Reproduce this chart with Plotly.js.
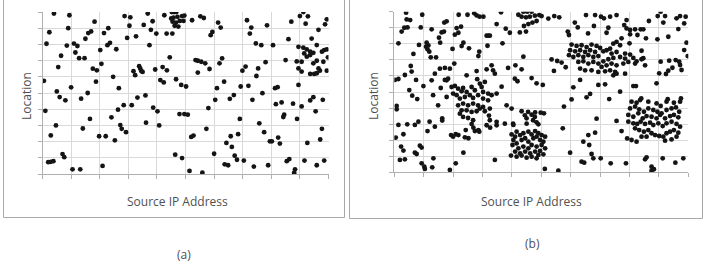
<!DOCTYPE html>
<html><head><meta charset="utf-8">
<script src="https://cdn.plot.ly/plotly-3.0.1.min.js"></script>
<style>html,body{margin:0;padding:0;background:#fff}#chart{width:705px;height:265px}</style>
</head><body><div id="chart"></div>
<script>
// Panel (a): uniformly scattered traffic, [sourceIP, location] in grid units
const aUpperLeft = [[0.4,9.9],[0.94,9.8],[0.24,8.75],[0.14,8.04],[0.9,9.0],[1.82,9.4],[0.65,7.3],[0.85,7.93],[1.1,8.05],[1.22,7.9],[1.15,7.5],[1.28,7.15],[1.47,7.15],[1.5,8.35],[1.6,8.7],[1.7,8.8],[0.55,6.6],[0.05,5.75],[0.5,5.1],[0.6,4.75],[0.8,4.55],[1.0,5.35],[1.35,4.65],[1.58,5.0],[0.1,3.9],[2.02,7.65],[2.15,8.7],[2.3,9.0],[2.27,7.95],[2.36,8.1],[2.58,7.7],[2.06,6.8],[1.76,6.5],[1.9,6.4],[1.87,5.7],[2.47,6.0],[2.67,5.3],[2.87,9.75],[3.07,9.67],[3.04,9.15],[2.96,8.4],[3.27,8.5],[3.68,9.9],[3.85,9.43],[3.54,9.2],[3.79,8.9],[3.74,7.95],[3.98,8.67],[4.26,9.8],[4.34,8.67],[4.54,8.67],[4.45,7.2],[3.18,6.35],[3.24,6.1],[3.38,6.65],[3.42,6.5],[3.46,6.35],[3.5,6.3],[3.94,6.45],[4.2,6.6],[4.35,6.4],[4.12,5.8],[4.24,5.65],[2.64,3.97],[2.84,4.25],[3.12,4.25],[3.32,4.72],[3.6,4.85],[3.87,4.1],[4.02,3.87],[1.66,3.4],[2.41,3.5],[4.52,10],[4.6,10],[4.68,10],[4.5,9.6],[4.58,9.65],[4.72,9.7],[4.88,9.75],[4.96,9.78],[4.55,9.4],[4.67,9.35],[4.8,9.45],[4.93,9.45],[4.62,9.15],[4.75,9.1]];
const aUpperRight = [[5.23,9.49],[5.52,9.73],[5.64,9.63],[6.14,9.35],[6.23,9.04],[5.94,8.77],[5.88,8.57],[7.15,9.49],[7.3,9.04],[7.25,8.67],[7.85,9.18],[7.46,8.06],[7.65,7.95],[8.06,7.95],[8.6,8.32],[8.7,9.4],[9.0,9.75],[9.12,10],[9.28,9.73],[9.2,9.28],[9.94,9.55],[9.88,9.24],[9.65,8.9],[9.41,8.36],[8.95,7.85],[9.12,7.8],[9.24,7.69],[9.36,7.55],[9.47,7.48],[9.15,7.44],[9.24,7.24],[9.36,7.34],[9.59,7.96],[9.77,7.55],[9.85,7.65],[9.94,7.69],[9.98,7.2],[9.59,6.99],[9.82,6.93],[8.89,6.95],[9.06,6.93],[8.95,6.52],[9.06,6.32],[9.36,6.18],[9.5,6.18],[9.59,6.22],[9.65,6.52],[9.7,6.38],[9.94,6.38],[9.47,6.83],[8.5,7.03],[7.8,6.9],[7.54,6.52],[7.48,6.05],[6.99,6.38],[7.1,6.63],[7.2,5.44],[6.93,5.4],[5.35,7.03],[5.43,6.99],[5.55,6.93],[5.69,6.83],[5.43,6.26],[5.84,6.48],[6.19,6.83],[6.28,7.14],[6.35,5.7],[4.67,5.85],[4.85,5.5],[5.02,5.4],[6.1,5.3],[6.04,4.58],[6.55,4.64],[6.69,4.87],[7.69,4.99],[7.34,4.58],[8.13,5.3],[8.22,5.36],[8.95,5.5],[8.16,4.31],[8.36,4.42],[8.76,4.34],[9.06,4.17],[9.36,4.54],[9.47,4.74],[9.8,4.58],[9.55,3.87],[5.8,4.07],[4.79,3.7],[4.96,3.7],[5.08,3.66],[8.45,3.66],[8.42,3.52],[6.9,3.4],[8.9,3.4]];
const aLowerLeft = [[0.47,3.0],[0.29,2.38],[0.2,0.73],[0.29,0.75],[0.38,0.79],[0.7,1.23],[0.76,1.04],[1.05,0.29],[1.32,0.29],[1.41,2.81],[1.98,2.33],[2.21,2.33],[2.1,0.5],[2.53,2.08],[2.72,3.02],[2.77,2.79],[2.92,2.58],[3.62,3.17],[4.08,3.0],[4.64,1.19]];
const aLowerRight = [[7.58,3.13],[7.75,2.58],[5.73,2.79],[5.2,2.29],[5.28,2.37],[4.88,0.98],[5.14,0.19],[5.59,0.08],[6.0,1.25],[6.58,2.33],[6.84,2.46],[6.43,1.92],[6.62,1.67],[6.72,1.13],[6.8,0.88],[7.04,0.83],[6.37,0.6],[6.49,0.54],[7.39,0.46],[7.89,0.54],[7.95,2.02],[8.02,2.02],[8.24,2.25],[8.3,1.88],[8.54,0.79],[8.63,0.92],[8.83,0.29],[8.8,0.08],[9.16,0.83],[9.26,1.92],[9.77,2.79],[9.71,2.13],[9.85,0.83],[9.59,0.54]];

// Panel (b): scattered traffic plus four dense clusters
const bSparseLeft = [[0.4,9.94],[0.42,9.52],[0.54,9.48],[0.95,9.81],[0.25,8.76],[0.34,9.0],[0.45,9.02],[0.9,9.02],[0.14,8.03],[0.84,7.93],[1.1,8.07],[1.16,7.9],[1.08,7.82],[1.13,7.66],[1.19,7.51],[1.27,8.9],[0.65,7.37],[1.24,7.16],[1.42,7.16],[1.52,8.38],[1.61,8.71],[1.69,8.76],[1.56,8.07],[1.7,9.32],[1.78,9.4],[2.06,8.57],[2.18,8.69],[2.12,8.98],[2.27,9.07],[2.19,9.81],[2.49,9.81],[2.72,9.9],[2.8,9.77],[2.9,9.69],[3.03,9.69],[1.98,7.68],[2.35,8.07],[2.29,7.86],[2.54,7.72],[2.86,7.24],[2.89,7.51],[3.14,8.51],[3.2,8.51],[3.25,8.51],[3.17,7.88],[3.63,9.96],[3.48,9.23],[3.68,8.03],[3.79,8.94],[3.93,8.69],[4.22,9.81],[4.27,8.71],[0.56,6.62],[0.59,6.27],[0.74,5.75],[0.36,6.06],[0.14,5.81],[0.02,5.75],[0.99,5.37],[0.51,5.12],[0.61,4.77],[0.78,4.56],[1.72,5.75],[0.08,4.13],[0.08,3.92],[2.8,6.3],[3.65,5.33],[3.22,3.53],[0.14,2.95],[0.44,2.99],[0.7,2.95],[0.82,3.15],[0.31,2.37],[0.05,2.16],[0.23,1.6],[0.31,1.35],[0.19,0.77],[0.36,0.81],[0.7,1.22],[0.76,1.14],[0.87,1.66],[0.93,1.54],[0.93,0.56],[1.02,0.35],[1.04,0.21],[1.29,0.31],[1.33,0.87],[1.13,2.57],[1.2,3.15],[1.38,2.84],[1.63,3.36],[1.63,3.22],[1.89,0.15],[2.09,0.56],[1.93,2.32],[2.0,2.22],[2.09,2.37],[2.18,2.32],[2.35,1.22],[2.4,2.18],[2.52,2.12],[2.43,2.63],[2.63,3.0],[2.69,2.78],[2.74,2.57],[2.89,2.53],[3.42,0.77],[4.05,2.95]];
const bSparseRight = [[5.77,4.09],[5.73,2.74],[5.12,0.21],[5.58,0.1],[5.98,1.22],[6.43,1.91],[6.6,2.32],[6.83,2.47],[6.88,3.34],[6.63,1.7],[6.71,1.14],[6.77,0.87],[7.02,0.87],[6.37,0.66],[6.46,0.6],[7.36,0.56],[7.56,3.2],[7.73,2.57],[7.88,0.56],[8.53,0.81],[8.58,0.93],[8.75,0.35],[8.83,0.19],[8.75,0.1],[9.13,0.87],[9.56,0.6],[9.83,0.87],[4.98,3.71],[5.09,3.67],[4.39,10],[4.52,10],[4.67,10],[4.33,9.69],[4.48,9.65],[4.61,9.69],[4.78,9.75],[4.93,9.79],[5.01,9.73],[4.41,9.11],[4.56,9.23],[4.7,9.32],[4.84,9.42],[4.48,8.76],[5.24,9.57],[5.44,9.73],[5.61,9.65],[6.52,9.79],[6.83,9.79],[7.03,9.69],[7.13,9.59],[7.34,9.69],[7.56,9.79],[7.9,9.48],[7.82,9.17],[7.9,8.96],[8.02,8.86],[8.19,8.9],[8.38,8.9],[8.47,8.9],[8.66,9.42],[8.96,9.73],[9.06,10],[9.21,9.73],[9.15,9.32],[9.6,9.59],[9.72,9.73],[9.91,9.69],[9.86,9.27],[9.66,8.92],[9.32,8.44],[9.94,8.07],[9.86,7.61],[9.98,7.24],[6.14,9.32],[6.24,9.02],[5.9,8.76],[5.94,8.55],[6.59,8.65],[6.79,9.11],[7.22,8.69],[7.28,9.0],[8.02,8.59],[8.27,8.55],[8.56,8.34],[8.95,8.28],[7.73,8.34],[8.0,8.03],[8.41,7.57],[8.47,7.1],[9.06,6.89],[9.35,6.95],[9.57,6.99],[9.69,6.89],[9.72,6.68],[9.46,6.51],[9.32,6.33],[9.24,6.12],[9.01,6.16],[8.92,5.54],[9.77,6.37],[4.39,7.2],[5.35,7.03],[5.54,6.93],[5.69,6.83],[5.43,6.31],[5.83,6.54],[6.32,5.75],[6.09,5.29],[6.94,5.44],[7.17,5.48],[7.68,5.02],[8.13,5.37],[8.22,5.37],[4.84,5.54],[5.05,5.44],[6.03,4.54],[6.54,4.67],[6.66,4.88],[7.31,4.56]];
const bClusterLeft = [[1.55,6.45],[1.72,6.5],[1.89,6.45],[2.04,6.77],[1.38,6.14],[1.27,5.73],[2.46,6.04],[2.82,5.8],[3.14,6.41],[3.31,6.66],[3.36,6.35],[3.42,6.14],[3.87,6.5],[4.12,6.66],[4.33,6.41],[4.1,5.83],[4.19,5.67],[4.67,5.87],[1.78,5.73],[1.83,5.83],[1.58,5.25],[1.32,4.8],[1.49,4.17],[1.78,4.69],[1.95,5.31],[2.06,5.38],[2.17,5.21],[2.0,4.9],[2.12,4.8],[2.29,5.04],[2.34,5.25],[2.46,5.0],[2.63,5.31],[2.74,5.11],[2.91,5.52],[2.97,5.31],[3.08,5.63],[3.02,5.0],[3.19,4.9],[3.31,4.8],[3.48,4.9],[2.23,4.59],[2.4,4.69],[2.57,4.8],[2.68,4.63],[2.85,4.8],[3.02,4.59],[3.19,4.48],[2.17,4.17],[2.34,4.28],[2.51,4.17],[2.68,4.28],[2.85,4.17],[3.02,4.07],[3.25,3.97],[2.29,3.86],[2.46,3.86],[2.63,3.76],[2.8,3.8],[2.91,3.97],[3.08,3.8],[2.23,3.65],[2.34,3.45],[2.51,3.38],[2.68,3.24],[3.25,3.24],[3.48,3.14],[3.82,4.17],[3.99,3.97],[4.33,3.8],[4.44,3.55],[4.55,3.76],[4.67,3.59],[4.72,3.24],[4.78,3.45],[4.5,3.03],[4.04,3.03],[3.76,3.03],[3.14,2.93],[3.48,2.93],[4.79,3.73]];
const bClusterBottom = [[4.5,3.36],[4.84,3.11],[4.9,2.99],[3.26,2.78],[2.86,2.63],[3.99,2.36],[4.11,2.22],[4.05,2.01],[4.16,2.53],[4.28,2.32],[4.39,2.43],[4.56,2.53],[4.67,2.36],[4.79,2.57],[4.9,2.43],[5.01,2.32],[5.13,2.22],[4.02,1.7],[4.16,1.8],[4.33,2.01],[4.45,2.12],[4.56,1.91],[4.73,2.12],[4.84,2.22],[4.96,2.01],[5.07,1.91],[4.22,1.49],[4.39,1.6],[4.56,1.49],[4.67,1.7],[4.84,1.6],[5.01,1.7],[5.13,1.49],[4.11,1.29],[4.28,1.18],[4.45,1.29],[4.62,1.18],[4.79,1.29],[4.96,1.33],[3.97,1.04],[4.16,0.97],[4.33,1.04],[4.5,0.91],[4.67,0.97],[4.9,1.08],[5.07,1.12],[4.84,0.87]];
const bClusterTop = [[6.03,7.95],[6.2,7.87],[6.37,7.91],[6.54,7.8],[6.71,7.95],[6.88,7.87],[7.0,7.74],[5.98,7.6],[6.15,7.53],[6.32,7.6],[6.49,7.49],[6.66,7.6],[6.83,7.49],[7.11,7.53],[7.22,7.6],[7.34,7.7],[7.45,8.01],[7.56,8.12],[7.68,7.91],[7.39,7.39],[7.56,7.49],[5.94,7.29],[6.09,7.18],[6.26,7.29],[6.43,7.18],[6.6,7.29],[6.77,7.18],[6.94,7.24],[6.26,6.87],[6.43,6.91],[6.6,6.77],[6.77,6.87],[6.94,6.77],[7.11,6.91],[7.28,7.04],[7.45,7.12],[7.68,7.18],[7.85,7.39],[8.02,7.33],[8.13,7.12],[8.24,6.91],[8.19,6.77],[7.96,6.87],[7.79,6.77],[7.85,7.08],[7.05,6.56],[7.22,6.66],[7.39,6.77],[7.56,6.66],[6.49,6.35],[6.71,6.35],[6.94,6.25],[7.17,6.29],[7.34,6.35],[7.51,6.25],[7.45,6.04],[7.56,6.14],[7.85,6.14],[6.32,6.46],[8.53,6.66],[8.41,7.04]];
const bClusterRight = [[8.4,4.6],[9.3,4.55],[9.75,4.6],[8.07,4.4],[8.24,4.33],[8.36,4.5],[8.64,4.4],[8.92,4.29],[9.06,4.13],[9.26,4.4],[9.51,4.33],[9.72,4.4],[8.02,3.98],[8.19,4.09],[8.33,3.92],[8.49,3.77],[8.64,3.98],[8.81,3.88],[8.95,3.77],[9.09,3.67],[9.26,3.88],[9.43,3.98],[9.58,4.04],[9.69,3.77],[7.96,3.57],[8.13,3.46],[8.3,3.67],[8.45,3.36],[8.58,3.5],[8.75,3.46],[8.92,3.36],[9.04,3.57],[9.21,3.36],[9.38,3.5],[9.51,3.57],[9.66,3.42],[7.96,3.15],[8.13,3.05],[8.26,3.01],[8.38,3.15],[8.53,3.01],[8.7,3.09],[8.81,2.94],[8.98,3.05],[9.13,2.88],[9.26,3.05],[9.43,3.15],[9.6,3.01],[9.72,2.84],[8.19,2.74],[8.33,2.63],[8.49,2.53],[8.64,2.63],[8.75,2.43],[8.87,2.32],[9.01,2.26],[9.15,2.22],[9.26,2.43],[9.38,2.53],[9.51,2.63],[9.66,2.47],[7.92,2.11],[8.07,2.01],[8.24,1.91],[8.41,2.22],[8.58,2.22],[9.21,1.97],[9.43,2.05],[9.6,2.22]];

const gridTicks = 1; // one grid cell per unit, 10 x 10 cells

const aPts = [].concat(aUpperLeft, aUpperRight, aLowerLeft, aLowerRight);
const bPts = [].concat(bSparseLeft, bSparseRight, bClusterLeft, bClusterBottom, bClusterTop, bClusterRight);

const mk = {size: 4.8, color: '#141414'};
const traces = [
  {type:'scatter', mode:'markers', x:aPts.map(p=>p[0]), y:aPts.map(p=>p[1]), xaxis:'x', yaxis:'y', marker:mk, hoverinfo:'none'},
  {type:'scatter', mode:'markers', x:bPts.map(p=>p[0]), y:bPts.map(p=>p[1]), xaxis:'x2', yaxis:'y2', marker:mk, hoverinfo:'none'}
];

const W = 705, H = 265;
const px = v => v / W, py = v => 1 - v / H;
function ax(domain, anchor){
  return {domain: domain, anchor: anchor, range:[0,10], tick0:0, dtick:gridTicks, showticklabels:false,
    showgrid:true, gridcolor:'#d9d9d9', gridwidth:1, zeroline:false, showline:true, linecolor:'#b0b0b0',
    linewidth:1, ticks:'outside', ticklen:4, tickcolor:'#b0b0b0', fixedrange:true};
}
const font = {family:'Open Sans, Liberation Sans, sans-serif', size:12, color:'#505050'};
const ann = (text, x, y, angle) => ({text:text, x:px(x), y:py(y), xref:'paper', yref:'paper', showarrow:false,
  xanchor:'center', yanchor:'middle', textangle: angle||0, font:font});

const layout = {
  width: W, height: H, margin:{l:0,r:0,t:0,b:0}, showlegend:false,
  paper_bgcolor:'#ffffff', plot_bgcolor:'#ffffff',
  xaxis: ax([px(42.5), px(328.5)], 'y'),
  yaxis: ax([py(174), py(12)], 'x'),
  xaxis2: ax([px(394.3), px(688.3)], 'y2'),
  yaxis2: ax([py(172.3), py(11.7)], 'x2'),
  shapes: [
    {type:'rect', xref:'paper', yref:'paper', x0:px(3.5), x1:px(344.5), y0:py(217.5), y1:py(-3), line:{color:'#a8a8a8', width:1}},
    {type:'rect', xref:'paper', yref:'paper', x0:px(349.5), x1:px(702.5), y0:py(218.5), y1:py(-3), line:{color:'#a8a8a8', width:1}}
  ],
  annotations: [
    ann('Location', 27, 96, -90),
    ann('Source IP Address', 178, 201),
    ann('Location', 374, 96, -90),
    ann('Source IP Address', 531, 201),
    ann('(a)', 184, 254),
    ann('(b)', 532, 243)
  ]
};
Plotly.newPlot('chart', traces, layout, {staticPlot:true, displayModeBar:false});
</script></body></html>
